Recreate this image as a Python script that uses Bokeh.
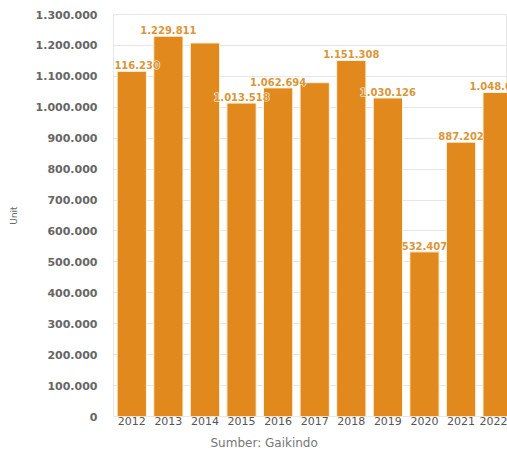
from bokeh.plotting import figure
from bokeh.models import ColumnDataSource, Range1d, FixedTicker, Title
from bokeh.embed import file_html
from bokeh.resources import INLINE
from bokeh.core.properties import value

years = [2012, 2013, 2014, 2015, 2016, 2017, 2018, 2019, 2020, 2021, 2022]
sales = [1116230, 1229811, 1208019, 1013518, 1062694, 1079534, 1151308, 1030126, 532407, 887202, 1048040]
show_label = [True, True, False, True, True, False, True, True, True, True, True]
y_ticks = [0, 100000, 200000, 300000, 400000, 500000, 600000, 700000, 800000, 900000,
           1000000, 1100000, 1200000, 1300000]
y_title = "Unit"
source_note = "Sumber: Gaikindo"


def fmt(v):
    return "{:,}".format(v).replace(",", ".")


src = ColumnDataSource(dict(x=years, y=sales))
lab_x = [x for x, s in zip(years, show_label) if s]
lab_y = [y for y, s in zip(sales, show_label) if s]
lab_src = ColumnDataSource(dict(x=lab_x, y=lab_y, t=[fmt(v) for v in lab_y]))

p = figure(width=507, height=455, output_backend="svg", toolbar_location=None,
           x_range=Range1d(2011.5, 2022.27), y_range=Range1d(0, 1300000),
           min_border_left=113, min_border_right=0, min_border_top=14, min_border_bottom=0)
p.background_fill_color = "white"
p.border_fill_color = "white"
p.outline_line_color = "#e6e6e6"

p.vbar(x="x", top="y", width=0.8, source=src, fill_color="#E2891E",
       line_color="#FFF3DC", line_width=1)

# white halo behind labels
p.text(x="x", y="y", text="t", source=lab_src, text_align="center", text_baseline="bottom",
       y_offset=-2, text_font=value("DejaVu Sans"), text_font_style="bold",
       text_font_size="10px", text_color="white", text_outline_color="white")
p.text(x="x", y="y", text="t", source=lab_src, text_align="center", text_baseline="bottom",
       y_offset=-2, text_font=value("DejaVu Sans"), text_font_style="bold",
       text_font_size="10px", text_color="#D9963A")

p.xgrid.visible = False
p.ygrid.grid_line_color = "#e6e6e6"
p.ygrid.ticker = FixedTicker(ticks=y_ticks)

ya = p.yaxis[0]
ya.ticker = FixedTicker(ticks=y_ticks)
ya.major_label_overrides = {t: fmt(t) for t in y_ticks}
ya.axis_line_color = None
ya.major_tick_line_color = None
ya.minor_tick_line_color = None
ya.major_label_text_font = "DejaVu Sans"
ya.major_label_text_font_style = "bold"
ya.major_label_text_font_size = "11px"
ya.major_label_text_color = "#666666"
ya.major_label_standoff = 10
ya.axis_label = y_title
ya.axis_label_text_font = "DejaVu Sans"
ya.axis_label_text_font_style = "normal"
ya.axis_label_text_font_size = "9px"
ya.axis_label_text_color = "#666666"
ya.axis_label_standoff = 14

xa = p.xaxis[0]
xa.ticker = FixedTicker(ticks=years)
xa.major_label_overrides = {y: str(y) for y in years}
xa.axis_line_color = None
xa.major_tick_line_color = None
xa.minor_tick_line_color = None
xa.major_tick_out = 0
xa.major_tick_in = 0
xa.major_label_text_font = "DejaVu Sans"
xa.major_label_text_font_size = "11px"
xa.major_label_text_color = "#555555"
xa.major_label_standoff = 0

note = Title(text=source_note, align="left", offset=97, text_font="DejaVu Sans",
             text_font_size="12px", text_font_style="normal", text_color="#777777",
             standoff=12)
p.add_layout(note, "below")

open("out.html", "w").write(file_html(p, INLINE))
